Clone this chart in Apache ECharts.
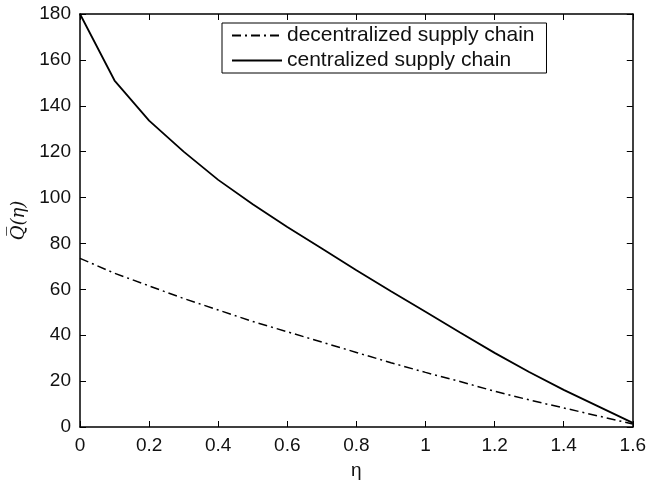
<!DOCTYPE html>
<html>
<head>
<meta charset="utf-8">
<script src="https://cdn.jsdelivr.net/npm/echarts@6/dist/echarts.min.js"></script>
<style>
html,body{margin:0;padding:0;background:#fff;}
#main{width:649px;height:488px;}
</style>
</head>
<body>
<div id="main"></div>
<script>
// eta values
var etaData = [0, 0.1, 0.2, 0.3, 0.4, 0.5, 0.6, 0.7, 0.8, 0.9, 1.0, 1.1, 1.2, 1.3, 1.4, 1.5, 1.6];
// centralized supply chain
var centralData = [180, 151, 133.5, 120, 107.7, 97.1, 87.2, 77.8, 68.3, 59.2, 50.2, 41.2, 32.3, 24, 16.2, 9, 1.8];
// decentralized supply chain
var decentralData = [73.5, 67, 61.5, 56, 51, 46, 41.5, 37, 32.5, 28, 23.8, 19.8, 15.6, 11.8, 8.3, 4.8, 1.3];
var seriesNames = ['decentralized supply chain', 'centralized supply chain'];

function pairs(xs, ys){
    var out = [];
    for (var i = 0; i < xs.length; i++) {
        out.push([xs[i], ys[i]]);
    }
    return out;
}

var fontFam = 'Liberation Sans, Arial, sans-serif';
var chart = echarts.init(document.getElementById('main'));

var axisLine = {show: true, onZero: false, lineStyle: {color: '#000', width: 1.5}};
var tickIn = {show: true, inside: true, length: 6, lineStyle: {color: '#000', width: 1}};

chart.setOption({
    animation: false,
    backgroundColor: '#fff',
    grid: {left: 80, right: 16, top: 14, bottom: 61, containLabel: false},
    legend: {
        orient: 'vertical',
        left: 222,
        top: 23,
        padding: [2, 12, 2, 9],
        itemGap: 4,
        itemWidth: 50,
        itemHeight: 20,
        borderColor: '#000',
        borderWidth: 1,
        backgroundColor: '#fff',
        itemStyle: {opacity: 0},
        textStyle: {fontFamily: fontFam, fontSize: 21, color: '#111'},
        data: seriesNames
    },
    xAxis: [{
        type: 'value', min: 0, max: 1.6, interval: 0.2,
        name: 'η', nameLocation: 'middle', nameGap: 34,
        nameTextStyle: {fontFamily: fontFam, fontSize: 19, color: '#111'},
        axisLine: axisLine, axisTick: tickIn,
        axisLabel: {fontFamily: fontFam, fontSize: 19, color: '#111', margin: 9},
        splitLine: {show: false}
    }, {
        type: 'value', position: 'top', min: 0, max: 1.6, interval: 0.2,
        axisLine: axisLine, axisTick: tickIn,
        axisLabel: {show: false}, splitLine: {show: false}
    }],
    yAxis: [{
        type: 'value', min: 0, max: 180, interval: 20,
        name: 'Q̅(η)', nameLocation: 'middle', nameGap: 52,
        nameTextStyle: {fontFamily: 'DejaVu Serif, serif', fontStyle: 'italic', fontSize: 18, color: '#111'},
        axisLine: axisLine, axisTick: tickIn,
        axisLabel: {fontFamily: fontFam, fontSize: 19, color: '#111', margin: 9},
        splitLine: {show: false}
    }, {
        type: 'value', position: 'right', min: 0, max: 180, interval: 20,
        axisLine: axisLine, axisTick: tickIn,
        axisLabel: {show: false}, splitLine: {show: false}
    }],
    series: [{
        name: seriesNames[0],
        type: 'line',
        data: pairs(etaData, decentralData),
        showSymbol: false,
        symbol: 'none',
        lineStyle: {color: '#000', width: 1.5, type: [9, 4, 2, 4]},
        itemStyle: {color: '#000'}
    }, {
        name: seriesNames[1],
        type: 'line',
        data: pairs(etaData, centralData),
        showSymbol: false,
        symbol: 'none',
        lineStyle: {color: '#000', width: 1.8, type: 'solid'},
        itemStyle: {color: '#000'}
    }]
});
</script>
</body>
</html>
